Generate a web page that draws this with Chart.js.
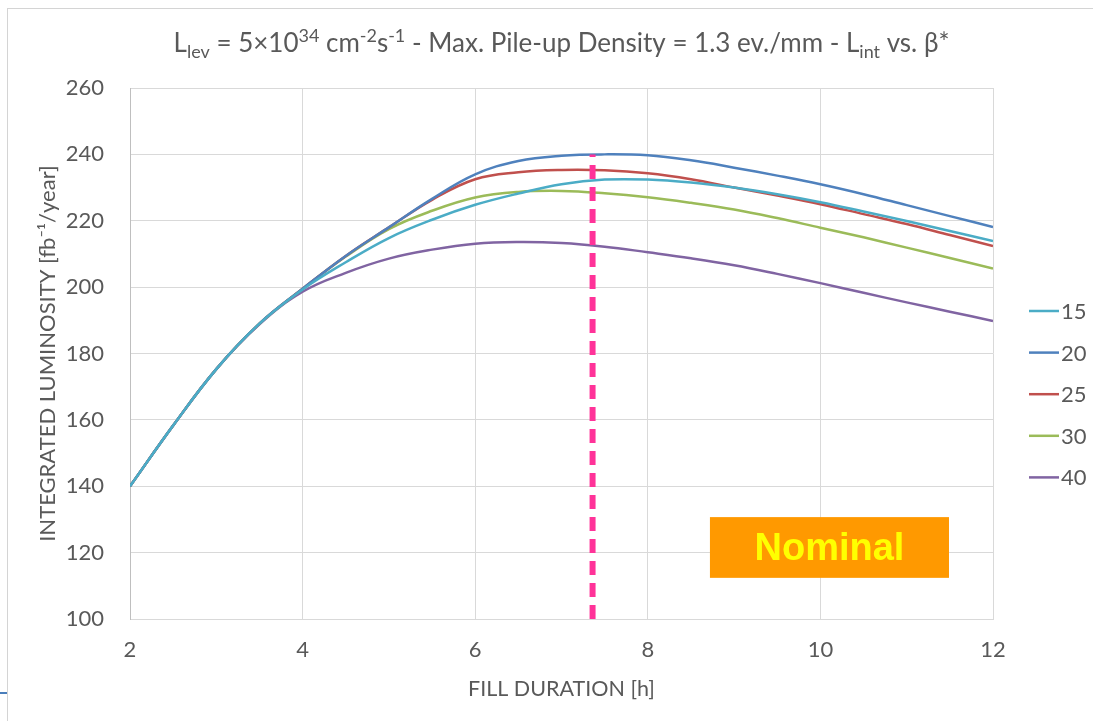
<!DOCTYPE html>
<html>
<head>
<meta charset="utf-8">
<script src="https://cdn.jsdelivr.net/npm/chart.js@4"></script>
<style>
  html, body { margin: 0; padding: 0; background: #fff; }
  #wrap { position: relative; width: 1093px; height: 721px; overflow: hidden; }
  .frame-top { position: absolute; left: 7px; top: 8px; width: 1086px; height: 1px; background: #d4d4d4; }
  .frame-left { position: absolute; left: 7px; top: 8px; width: 1px; height: 713px; background: #d4d4d4; }
  .tab { position: absolute; left: 0; top: 692px; width: 7px; height: 2px; background: #4a7ebb; }
  canvas { position: absolute; left: 0; top: 0; }
</style>
</head>
<body>
<div id="wrap">
  <div class="frame-top"></div>
  <div class="frame-left"></div>
  <div class="tab"></div>
  <canvas id="chart" width="1093" height="721"></canvas>
</div>
<script>
// Fill duration [h]
const fillHours = [2, 2.5, 3, 3.5, 4, 4.5, 5, 5.5, 6, 6.5, 7, 7.5, 8, 8.5, 9, 9.5, 10, 10.5, 11, 11.5, 12];

// Integrated luminosity [fb^-1/year] for each beta* (cm)
const betaLabels = ['15', '20', '25', '30', '40'];
const lumiBeta15 = [140, 158.3, 175.3, 189, 199.3, 207.5, 214.8, 220.3, 224.8, 228.2, 231, 232.4, 232.4, 231.5, 230, 228, 225.6, 222.8, 219.9, 216.9, 213.9];
const lumiBeta20 = [140, 158.3, 175.3, 189, 199.5, 209.4, 218, 226.6, 234, 238, 239.6, 240, 239.7, 238.2, 236, 233.6, 231, 228, 224.7, 221.4, 218.1];
const lumiBeta25 = [140, 158.3, 175.3, 189, 199.5, 209.4, 218, 226.3, 232.5, 234.6, 235.3, 235.2, 234.3, 232.5, 230, 227.6, 225, 222, 219, 215.7, 212.4];
const lumiBeta30 = [140, 158.3, 175.3, 189, 199.5, 209.2, 217.5, 223, 227, 228.7, 229, 228.3, 227.1, 225.4, 223.4, 220.8, 217.9, 215, 211.9, 208.8, 205.6];
const lumiBeta40 = [140, 158.3, 175.3, 188.8, 198.6, 204.3, 208.6, 211.3, 213.1, 213.6, 213.3, 212.2, 210.5, 208.7, 206.6, 204, 201.2, 198.3, 195.4, 192.6, 189.8];
const lumiSeries = [lumiBeta15, lumiBeta20, lumiBeta25, lumiBeta30, lumiBeta40];
const seriesColors = ['#4bacc6', '#4f81bd', '#c0504d', '#9bbb59', '#8064a2'];

// Nominal working point: vertical marker
const nominalFill = 7.36;
const nominalSpan = [100, 240];
// Label box extent in axis units
const nominalBoxX = [8.72, 11.49];
const nominalBoxY = [112.4, 130.7];

// Axis ticks
const xTicks = { min: 2, max: 12, step: 2 };
const yTicks = { min: 100, max: 260, step: 20 };

const TEXT = '#595959';
const FONT = 'Lato, "Open Sans", sans-serif';

const datasets = lumiSeries.map((vals, i) => ({
  label: betaLabels[i],
  data: fillHours.map((h, k) => ({ x: h, y: vals[k] })),
  borderColor: seriesColors[i],
  borderWidth: 2.5,
  pointRadius: 0,
  tension: 0.4,
  fill: false,
  order: 2 + i
}));

datasets.push({
  label: 'nominal',
  data: nominalSpan.map(v => ({ x: nominalFill, y: v })),
  borderColor: '#ff3399',
  borderWidth: 6,
  borderDash: [14, 8],
  borderCapStyle: 'butt',
  pointRadius: 0,
  tension: 0,
  fill: false,
  order: 0,
  isMarker: true
});

// Title with sub/superscripts
const titleParts = [
  { t: 'L' }, { t: 'lev', sub: true }, { t: ' = 5×10' }, { t: '34', sup: true },
  { t: ' cm' }, { t: '-2', sup: true }, { t: 's' }, { t: '-1', sup: true },
  { t: ' - Max. Pile-up Density = 1.3 ev./mm - L' }, { t: 'int', sub: true }, { t: ' vs. β*' }
];

const titlePlugin = {
  id: 'richTitle',
  afterDraw(chart) {
    const ctx = chart.ctx;
    const size = 26, small = 18;
    const mainFont = `${size}px ${FONT}`, smallFont = `${small}px ${FONT}`;
    ctx.save();
    ctx.fillStyle = TEXT;
    ctx.textBaseline = 'alphabetic';
    let total = 0;
    titleParts.forEach(p => {
      ctx.font = (p.sub || p.sup) ? smallFont : mainFont;
      p.w = ctx.measureText(p.t).width;
      total += p.w;
    });
    const cx = (chart.chartArea.left + chart.chartArea.right) / 2;
    let x = cx - total / 2;
    const base = 52;
    titleParts.forEach(p => {
      ctx.font = (p.sub || p.sup) ? smallFont : mainFont;
      const dy = p.sub ? 6 : (p.sup ? -10 : 0);
      ctx.fillText(p.t, x, base + dy);
      x += p.w;
    });
    ctx.restore();
  }
};

const legendPlugin = {
  id: 'sideLegend',
  afterDraw(chart) {
    const ctx = chart.ctx;
    ctx.save();
    ctx.font = `22px ${FONT}`;
    ctx.textBaseline = 'middle';
    ctx.textAlign = 'left';
    let y = 311;
    chart.data.datasets.forEach(ds => {
      if (ds.isMarker) return;
      ctx.strokeStyle = ds.borderColor;
      ctx.lineWidth = 2.5;
      ctx.beginPath();
      ctx.moveTo(1029, y);
      ctx.lineTo(1059, y);
      ctx.stroke();
      ctx.fillStyle = TEXT;
      ctx.fillText(ds.label, 1061, y + 1);
      y += 41.6;
    });
    ctx.restore();
  }
};

const nominalPlugin = {
  id: 'nominalBox',
  afterDraw(chart) {
    const { ctx, scales: { x, y } } = chart;
    const x0 = x.getPixelForValue(nominalBoxX[0]);
    const x1 = x.getPixelForValue(nominalBoxX[1]);
    const y0 = y.getPixelForValue(nominalBoxY[1]);
    const y1 = y.getPixelForValue(nominalBoxY[0]);
    ctx.save();
    ctx.fillStyle = '#ff9900';
    ctx.fillRect(x0, y0, x1 - x0, y1 - y0);
    ctx.fillStyle = '#ffff00';
    ctx.font = 'bold 38px "Liberation Sans", Arial, sans-serif';
    ctx.textAlign = 'center';
    ctx.textBaseline = 'middle';
    ctx.fillText('Nominal', (x0 + x1) / 2, (y0 + y1) / 2 + 2);
    ctx.restore();
  }
};

new Chart(document.getElementById('chart'), {
  type: 'line',
  data: { datasets },
  plugins: [titlePlugin, legendPlugin, nominalPlugin],
  options: {
    responsive: false,
    animation: false,
    events: [],
    layout: { padding: { left: 0, top: 88, right: 100, bottom: 0 } },
    plugins: { legend: { display: false }, title: { display: false }, tooltip: { enabled: false } },
    scales: {
      x: {
        type: 'linear',
        min: xTicks.min, max: xTicks.max,
        afterFit(scale) { scale.height = 102; },
        ticks: { stepSize: xTicks.step, color: TEXT, font: { family: FONT, size: 22 }, padding: 18, maxRotation: 0 },
        grid: { color: '#d9d9d9', lineWidth: 1, drawTicks: false },
        border: { color: '#d9d9d9' },
        title: { display: true, text: 'FILL DURATION [h]', color: TEXT, font: { family: FONT, size: 21.5 }, padding: { top: 0, bottom: 19 } }
      },
      y: {
        type: 'linear',
        min: yTicks.min, max: yTicks.max,
        afterFit(scale) { scale.width = 130; },
        ticks: { stepSize: yTicks.step, color: TEXT, font: { family: FONT, size: 22 }, padding: 26 },
        grid: { color: '#d9d9d9', lineWidth: 1, drawTicks: false },
        border: { color: '#bfbfbf' },
        title: { display: true, text: 'INTEGRATED LUMINOSITY [fb⁻¹/year]', color: TEXT, font: { family: FONT, size: 22 }, padding: { top: 35, bottom: 0 } }
      }
    }
  }
});
</script>
</body>
</html>
